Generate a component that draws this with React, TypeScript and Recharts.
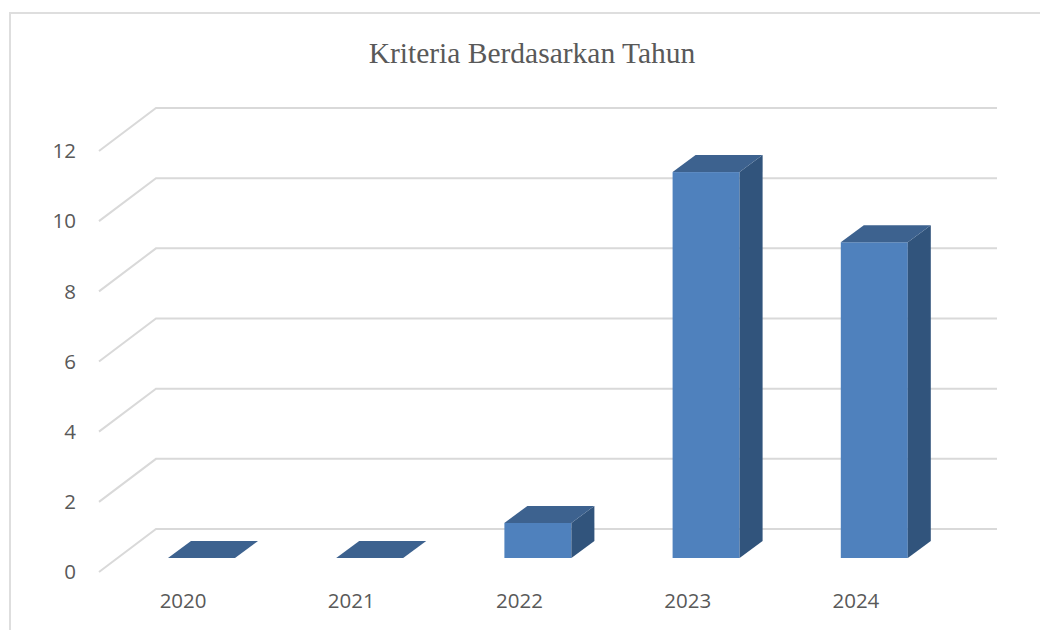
import { BarChart, Bar, XAxis, YAxis, CartesianGrid } from 'recharts';

const years = ['2020', '2021', '2022', '2023', '2024'];
const counts = [0, 0, 1, 11, 9];
const yTicks = [0, 2, 4, 6, 8, 10, 12];

const chartData = years.map((year, i) => ({ year, count: counts[i] }));

// oblique projection used by the 3D look
const WALL_DX = 57;
const WALL_DY = -43;
const BAR_DX = 18;
const BAR_DY = -14;
const DEPTH_DX = 23;
const DEPTH_DY = -17;

const axisTick = { fontFamily: '"Open Sans"', fontSize: 20.5, fill: '#595959' };

function WallLine(props: any) {
  const { x1, x2, y1 } = props;
  return (
    <path
      d={`M${x1},${y1} L${x1 + WALL_DX},${y1 + WALL_DY} L${x2 + WALL_DX},${y1 + WALL_DY}`}
      fill="none"
      stroke="#d9d9d9"
      strokeWidth={2}
    />
  );
}

function Box3D(props: any) {
  const { x, y, width, height } = props;
  const l = x + BAR_DX;
  const r = l + width;
  const t = y + BAR_DY;
  const b = t + height;
  return (
    <g>
      {height > 0 && <rect x={l} y={t} width={width} height={height} fill="#4f81bd" />}
      {height > 0 && (
        <polygon
          points={`${r},${t} ${r + DEPTH_DX},${t + DEPTH_DY} ${r + DEPTH_DX},${b + DEPTH_DY} ${r},${b}`}
          fill="#31547c"
        />
      )}
      <polygon
        points={`${l},${t} ${l + DEPTH_DX},${t + DEPTH_DY} ${r + DEPTH_DX},${t + DEPTH_DY} ${r},${t}`}
        fill="#3d628f"
      />
    </g>
  );
}

export default function App() {
  return (
    <div style={{ position: 'absolute', left: 0, top: 0, width: 1040, height: 630, background: '#fff', overflow: 'hidden' }}>
      <div style={{ position: 'absolute', left: 9, top: 12, width: 1040, height: 640, border: '2px solid #dedede' }} />
      <div
        style={{
          position: 'absolute', left: 0, width: 1064, top: 37, textAlign: 'center',
          fontFamily: '"Liberation Serif"', fontSize: 29.5, color: '#595959',
        }}
      >
        Kriteria Berdasarkan Tahun
      </div>
      <BarChart
        width={1040}
        height={630}
        data={chartData}
        margin={{ top: 151, right: 100, bottom: 28, left: 59 }}
        style={{ position: 'absolute', left: 0, top: 0 }}
      >
        <CartesianGrid vertical={false} horizontal={(p: any) => <WallLine {...p} />} />
        <XAxis
          dataKey="year"
          axisLine={false}
          tickLine={false}
          tick={axisTick}
          tickMargin={15}
          interval={0}
        />
        <YAxis
          width={40}
          domain={[0, 12]}
          ticks={yTicks}
          axisLine={false}
          tickLine={false}
          tick={axisTick}
          tickMargin={17}
        />
        <Bar dataKey="count" barSize={67} shape={<Box3D />} isAnimationActive={false} />
      </BarChart>
    </div>
  );
}
